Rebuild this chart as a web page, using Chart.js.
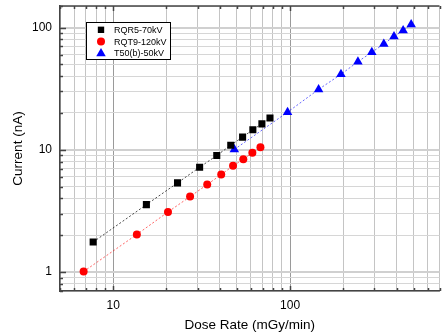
<!DOCTYPE html>
<html>
<head>
<meta charset="utf-8">
<script src="https://cdn.jsdelivr.net/npm/chart.js@4/dist/chart.umd.min.js"></script>
<style>
  html, body { margin: 0; padding: 0; background: #fff; }
  #wrap { width: 445px; height: 333px; }
</style>
</head>
<body>
<div id="wrap"><canvas id="doseChart"></canvas></div>
<script>
// --- data ---
const rqr5Dose = [7.7, 15.4, 23.1, 30.8, 38.5, 46.2, 53.9, 61.6, 69.3, 77];
const rqr5Current = [1.76, 3.56, 5.36, 7.2, 8.98, 10.9, 12.7, 14.6, 16.3, 18.2];
const rqt9Dose = [6.8, 13.6, 20.4, 27.2, 34, 40.8, 47.6, 54.4, 61.2, 68];
const rqt9Current = [1.01, 2.03, 3.1, 4.14, 5.2, 6.27, 7.39, 8.37, 9.45, 10.5];
const t50Dose = [48.4, 96.8, 145, 194, 242, 290, 339, 387, 436, 484];
const t50Current = [10.06, 20.3, 31.2, 41.4, 52.6, 62.7, 73.4, 84.4, 94.5, 105.9];

const seriesLabels = ['RQR5-70kV', 'RQT9-120kV', 'T50(b)-50kV'];
const xTickValues = [5, 6, 7, 8, 9, 10, 20, 30, 40, 50, 60, 70, 80, 90, 100, 200, 300, 400, 500, 600, 700];
const yTickValues = [0.7, 0.8, 0.9, 1, 2, 3, 4, 5, 6, 7, 8, 9, 10, 20, 30, 40, 50, 60, 70, 80, 90, 100, 150];
const xTickLabels = { 10: '10', 100: '100' };
const yTickLabels = { 1: '1', 10: '10', 100: '100' };

const FONT = '"Liberation Sans", Arial, sans-serif';
const toPoints = (xs, ys) => xs.map((x, i) => ({ x: x, y: ys[i] }));
const isMajor = v => Math.abs(Math.log10(v) - Math.round(Math.log10(v))) < 1e-9;

// dotted guide lines + markers
function makeSet(label, xs, ys, color, lineColor, style, radius) {
    return {
        label: label,
        data: toPoints(xs, ys),
        showLine: true,
        borderColor: lineColor,
        borderWidth: 1,
        borderDash: [2, 2],
        pointStyle: style,
        pointRadius: radius,
        pointBackgroundColor: color,
        pointBorderColor: color,
        pointBorderWidth: 0
    };
}

// inward tick marks, top frame line and the boxed legend
const framePlugin = {
    id: 'frame',
    afterDatasetsDraw(chart) {
        const ctx = chart.ctx;
        const area = chart.chartArea;
        const xs = chart.scales.x, ys = chart.scales.y;
        ctx.save();
        ctx.strokeStyle = '#444';
        ctx.lineWidth = 1.5;
        ctx.beginPath();
        ctx.moveTo(area.left, area.top);
        ctx.lineTo(area.right, area.top);
        ctx.stroke();

        xTickValues.forEach(v => {
            const px = Math.round(xs.getPixelForValue(v)) + 0.5;
            const len = isMajor(v) ? 5 : 3;
            ctx.beginPath();
            ctx.moveTo(px, area.bottom);
            ctx.lineTo(px, area.bottom - len);
            ctx.moveTo(px, area.top);
            ctx.lineTo(px, area.top + len);
            ctx.stroke();
        });
        yTickValues.forEach(v => {
            const py = Math.round(ys.getPixelForValue(v)) + 0.5;
            const len = isMajor(v) ? 6 : 3;
            ctx.beginPath();
            ctx.moveTo(area.left, py);
            ctx.lineTo(area.left + len, py);
            ctx.stroke();
        });

        // legend box
        ctx.lineWidth = 1;
        ctx.strokeStyle = '#000';
        ctx.fillStyle = '#fff';
        ctx.fillRect(86.5, 22.5, 84, 37);
        ctx.strokeRect(86.5, 22.5, 84, 37);
        ctx.font = '9px ' + FONT;
        ctx.textBaseline = 'middle';
        const legendSizes = [4.5, 4, 5.5];
        chart.data.datasets.forEach((ds, i) => {
            const cy = 29.8 + i * 11.8;
            ctx.fillStyle = ds.pointBackgroundColor;
            Chart.helpers.drawPoint(ctx, {
                pointStyle: ds.pointStyle,
                radius: legendSizes[i],
                rotation: 0,
                borderWidth: 0
            }, 101, cy);
            ctx.fillStyle = '#000';
            ctx.fillText(ds.label, 114, cy + 0.5);
        });
        ctx.restore();
    }
};

const gridColor = (vertical) => (c) => {
    const v = c.tick && c.tick.value;
    if (v === undefined) return '#ccc';
    if (isMajor(v)) return vertical ? '#9a9a9a' : '#d0d0d0';
    return vertical ? '#c4c4c4' : '#d6d6d6';
};

new Chart(document.getElementById('doseChart'), {
    type: 'scatter',
    data: {
        datasets: [
            makeSet(seriesLabels[0], rqr5Dose, rqr5Current, '#000000', 'rgba(0,0,0,0.7)', 'rect', 5),
            makeSet(seriesLabels[1], rqt9Dose, rqt9Current, '#ff0000', 'rgba(255,0,0,0.6)', 'circle', 4),
            makeSet(seriesLabels[2], t50Dose, t50Current, '#0000ff', 'rgba(0,0,255,0.6)', 'triangle', 5.5)
        ]
    },
    plugins: [framePlugin],
    options: {
        responsive: true,
        maintainAspectRatio: false,
        animation: false,
        layout: { padding: { top: 6, right: 4, left: 0, bottom: 0 } },
        plugins: {
            legend: { display: false },
            tooltip: { enabled: false }
        },
        scales: {
            x: {
                type: 'logarithmic',
                min: 5,
                max: 700,
                afterBuildTicks: s => { s.ticks = xTickValues.map(v => ({ value: v })); },
                afterFit: s => { s.height = 42; s.paddingLeft = 0; s.paddingRight = 0; },
                grid: { color: gridColor(true), lineWidth: 1, drawTicks: false, tickLength: 0 },
                border: { color: '#444', width: 1.5 },
                ticks: {
                    autoSkip: false,
                    maxRotation: 0,
                    padding: 7,
                    color: '#000',
                    font: { family: FONT, size: 12 },
                    callback: v => xTickLabels[v] || ''
                },
                title: {
                    display: true,
                    text: 'Dose Rate (mGy/min)',
                    color: '#000',
                    font: { family: FONT, size: 13.5 },
                    padding: { top: 2, bottom: 0 }
                }
            },
            y: {
                type: 'logarithmic',
                min: 0.7,
                max: 150,
                afterBuildTicks: s => { s.ticks = yTickValues.map(v => ({ value: v })); },
                afterFit: s => { s.width = 60; s.paddingTop = 0; s.paddingBottom = 0; },
                grid: { color: gridColor(false), lineWidth: c => (c.tick && isMajor(c.tick.value)) ? 2 : 1, drawTicks: false, tickLength: 0 },
                border: { color: '#444', width: 1.5 },
                ticks: {
                    autoSkip: false,
                    padding: 8,
                    color: '#000',
                    font: { family: FONT, size: 12 },
                    callback: v => yTickLabels[v] || ''
                },
                title: {
                    display: true,
                    text: 'Current (nA)',
                    color: '#000',
                    font: { family: FONT, size: 13.5 },
                    padding: { top: 10, bottom: 0 }
                }
            }
        }
    }
});
</script>
</body>
</html>
